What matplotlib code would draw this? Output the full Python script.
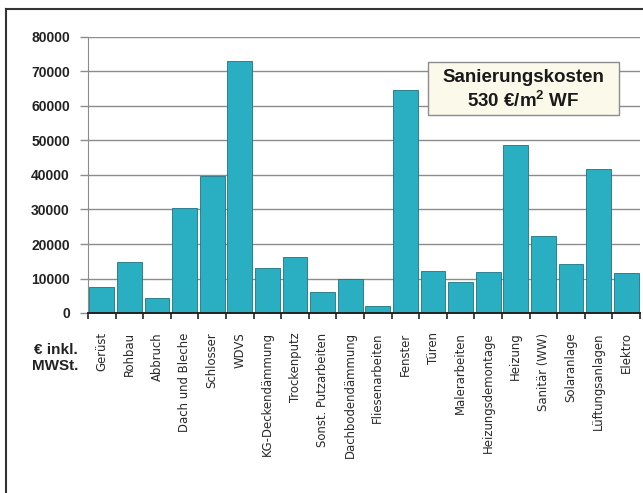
import matplotlib
matplotlib.use('Agg')
import matplotlib.pyplot as plt
from matplotlib import font_manager
from matplotlib.lines import Line2D
from matplotlib.patches import Rectangle

kategorien = ['Gerüst', 'Rohbau', 'Abbruch', 'Dach und Bleche', 'Schlosser', 'WDVS',
              'KG-Deckendämmung', 'Trockenputz', 'Sonst. Putzarbeiten', 'Dachbodendämmung',
              'Fliesenarbeiten', 'Fenster', 'Türen', 'Malerarbeiten', 'Heizungsdemontage',
              'Heizung', 'Sanitär (WW)', 'Solaranlage', 'Lüftungsanlagen', 'Elektro']
kosten = [7600, 14700, 4400, 30500, 39800, 73000,
          13100, 16300, 6100, 9800,
          2000, 64600, 12200, 9000, 11800,
          48700, 22400, 14300, 41700, 11700]
y_ticks = [0, 10000, 20000, 30000, 40000, 50000, 60000, 70000, 80000]

plt.rcParams['font.family'] = ['Liberation Sans', 'DejaVu Sans']
plt.rcParams['mathtext.default'] = 'regular'


def schmale_schrift():
    # aufrechte schmale Schrift fuer die Kategorien suchen
    fl = font_manager.fontManager.ttflist
    for f in fl:
        if f.name == 'Liberation Sans Narrow' and f.style == 'normal' and f.weight in (400, 'normal', 'regular'):
            return font_manager.FontProperties(fname=f.fname)
    for f in fl:
        if f.name == 'DejaVu Sans' and 'condensed' in str(f.stretch) and f.style == 'normal' \
                and f.weight in (400, 'normal', 'regular'):
            return font_manager.FontProperties(fname=f.fname)
    return font_manager.FontProperties(family='Liberation Sans')


schmal = schmale_schrift()

W, H = 643, 493
fig = plt.figure(figsize=(W / 100, H / 100), dpi=100)
ax = fig.add_axes([88 / W, (H - 313) / H, 552 / W, 276 / H])

x = range(len(kategorien))
ax.bar(x, kosten, width=0.9, color='#29aec2', edgecolor='#1d7482', linewidth=0.6, zorder=3)

ax.set_xlim(-0.5, len(kategorien) - 0.5)
ax.set_ylim(0, 80000)
ax.set_yticks(y_ticks)
ax.set_yticklabels([str(v) for v in y_ticks], fontsize=10, fontweight='bold', color='#222222')
ax.yaxis.grid(True, color='#8c8c8c', linewidth=1.0, zorder=0)
ax.tick_params(axis='y', length=6, width=1.0, color='#8c8c8c', pad=7)

# Kategorien als Beschriftung, Striche an den Balkengrenzen
ax.set_xticks(list(x))
ax.set_xticklabels(kategorien, rotation=90, color='#2a2a2a')
for lbl in ax.get_xticklabels():
    lbl.set_fontproperties(schmal)
    lbl.set_fontsize(10)
ax.set_xticks([i - 0.5 for i in range(len(kategorien) + 1)], minor=True)
ax.tick_params(axis='x', which='major', length=0, pad=14)
ax.tick_params(axis='x', which='minor', length=4, width=1.2, color='#222222', direction='out')

# Groesse so waehlen, dass "KG-Deckendämmung" etwa 124 px lang ist
fig.canvas.draw()
r = fig.canvas.get_renderer()
lang = ax.get_xticklabels()[6].get_window_extent(r).height
groesse = 10 * 124 / lang
for lbl in ax.get_xticklabels():
    lbl.set_fontsize(groesse)

for s in ['top', 'right']:
    ax.spines[s].set_visible(False)
ax.spines['left'].set_color('#8c8c8c')
ax.spines['bottom'].set_color('#222222')
ax.spines['bottom'].set_linewidth(1.4)
ax.spines['bottom'].set_zorder(5)

fig.text(78 / W, 1 - 358 / H, '€ inkl.\nMWSt.', ha='right', va='center',
         fontsize=11, fontweight='bold', color='#222222', linespacing=1.2)

# Kasten mit Kosten
fig.patches.append(Rectangle((428 / W, 1 - 115 / H), 191 / W, 53 / H, transform=fig.transFigure,
                             facecolor='#fbf9ea', edgecolor='#8c8c8c', linewidth=1.0, zorder=5))
fig.text(523 / W, 1 - 77 / H, 'Sanierungskosten', ha='center', va='center',
         fontsize=13.5, fontweight='bold', color='#1a1a1a', zorder=6)
fig.text(523 / W, 1 - 101 / H, '530 €/m$^2$ WF', ha='center', va='center',
         fontsize=13.5, fontweight='bold', color='#1a1a1a', zorder=6)

# Rahmen
fig.add_artist(Line2D([6 / W, 6 / W], [0, 1 - 9 / H], transform=fig.transFigure,
                      color='#333333', linewidth=1.5))
fig.add_artist(Line2D([6 / W, 1], [1 - 9 / H, 1 - 9 / H], transform=fig.transFigure,
                      color='#333333', linewidth=1.5))

fig.savefig('out.png', dpi=100)
